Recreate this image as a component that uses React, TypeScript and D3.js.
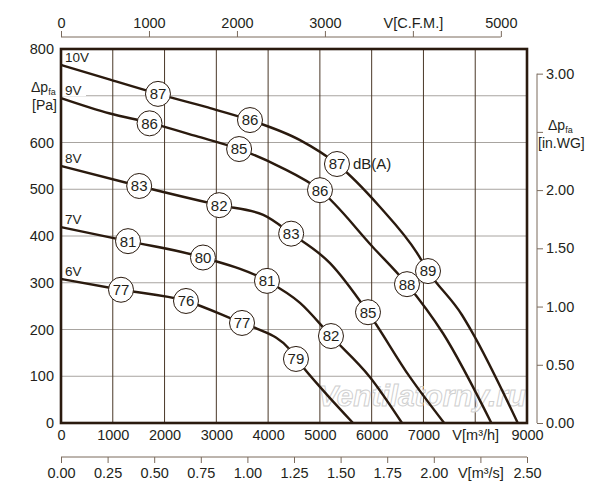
import { useEffect, useRef } from "react";
import * as d3 from "d3";

type Pt = [number, number];
type Mark = [number, number, string];

// flow V [m³/h], static pressure Δp_fa [Pa]
const curve10V: Pt[] = [
  [0, 766], [900, 736], [1873, 704], [2800, 676], [3650, 648], [4616, 605],
  [5330, 554], [6161, 462], [6875, 364], [7088, 325], [7744, 231], [7937, 195], [8822, 0],
];
const curve9V: Pt[] = [
  [0, 695], [946, 662], [1719, 642], [2600, 614], [3438, 586], [4229, 548],
  [5002, 498], [6025, 376], [6682, 297], [7377, 192], [8312, 0],
];
const curve8V: Pt[] = [
  [0, 550], [1506, 507], [3051, 466], [3906, 445], [4461, 404], [5195, 342],
  [5929, 237], [6740, 98], [7400, 0],
];
const curve7V: Pt[] = [
  [0, 419], [1294, 389], [2742, 354], [3978, 304], [4616, 257], [5214, 186],
  [5968, 98], [6586, 0],
];
const curve6V: Pt[] = [
  [0, 308], [1159, 285], [2414, 261], [3496, 214], [3780, 202], [4420, 157],
  [4600, 130], [5100, 65], [5640, 0],
];

const curveNames = ["10V", "9V", "8V", "7V", "6V"];
const curves = [curve10V, curve9V, curve8V, curve7V, curve6V];

// sound level dB(A) markers on each curve
const marks10V: Mark[] = [[1873, 704, "87"], [3650, 648, "86"], [5330, 554, "87"], [7088, 325, "89"]];
const marks9V: Mark[] = [[1710, 641, "86"], [3440, 586, "85"], [5002, 498, "86"], [6682, 297, "88"]];
const marks8V: Mark[] = [[1510, 507, "83"], [3055, 466, "82"], [4445, 405, "83"], [5929, 237, "85"]];
const marks7V: Mark[] = [[1294, 389, "81"], [2742, 354, "80"], [3978, 304, "81"], [5214, 186, "82"]];
const marks6V: Mark[] = [[1159, 285, "77"], [2414, 261, "76"], [3496, 214, "77"], [4538, 137, "79"]];
const marks = [marks10V, marks9V, marks8V, marks7V, marks6V];

const flowTicks = [0, 1000, 2000, 3000, 4000, 5000, 6000, 7000, 8000, 9000];
const flowTickLabels = ["0", "1000", "2000", "3000", "4000", "5000", "6000", "7000", "V[m³/h]", "9000"];
const pressureTicks = [0, 100, 200, 300, 400, 500, 600, 700, 800];
const pressureTickLabels = ["0", "100", "200", "300", "400", "500", "600", "", "800"];
const cfmTicks = [0, 1000, 2000, 3000, 4000, 5000];
const cfmTickLabels = ["0", "1000", "2000", "3000", "V[C.F.M.]", "5000"];
const m3sTicks = [0, 0.25, 0.5, 0.75, 1, 1.25, 1.5, 1.75, 2, 2.25, 2.5];
const m3sTickLabels = ["0.00", "0.25", "0.50", "0.75", "1.00", "1.25", "1.50", "1.75", "2.00", "V[m³/s]", "2.50"];
const inwgTicks = [0, 0.5, 1, 1.5, 2, 2.5, 3];
const inwgTickLabels = ["0.00", "0.50", "1.00", "1.50", "2.00", "", "3.00"];

const INK = "#2a1a0e";
const TEXT = "#231f1a";
const AXIS = "#7a6a5c";
const FONT = "'Liberation Sans', Arial, sans-serif";

export default function App() {
  const svgRef = useRef<SVGSVGElement>(null);

  useEffect(() => {
    const svgEl = svgRef.current;
    if (!svgEl) return;
    const svg = d3.select(svgEl);
    svg.selectAll("*").remove();

    const left = 61, right = 527, top = 49, bottom = 423;
    const x = d3.scaleLinear().domain([0, 9000]).range([left, right]);
    const y = d3.scaleLinear().domain([0, 800]).range([bottom, top]);
    const xCfm = d3.scaleLinear().domain([0, 9000 / 1.699]).range([left, right]);
    const xM3s = d3.scaleLinear().domain([0, 2.5]).range([left, right]);
    const yInwg = d3.scaleLinear().domain([0, 800 / 249.089]).range([bottom, top]);

    // grid
    const grid = svg.append("g");
    grid.selectAll(".hg")
      .data(pressureTicks.slice(1, -1))
      .enter()
      .append("line")
      .attr("x1", left).attr("x2", right)
      .attr("y1", (d) => y(d)).attr("y2", (d) => y(d))
      .attr("stroke", "#a8a4a0").attr("stroke-width", 1);
    grid.selectAll(".vg")
      .data(flowTicks.slice(1, -1))
      .enter()
      .append("line")
      .attr("y1", top).attr("y2", bottom)
      .attr("x1", (d) => x(d)).attr("x2", (d) => x(d))
      .attr("stroke", "#4a3828").attr("stroke-width", 1);

    // watermark
    svg.append("text")
      .attr("x", 318).attr("y", 406)
      .attr("textLength", 208)
      .attr("lengthAdjust", "spacingAndGlyphs")
      .attr("font-family", FONT)
      .attr("font-size", 30)
      .attr("font-style", "italic")
      .attr("font-weight", "bold")
      .attr("fill", "#ffffff")
      .attr("fill-opacity", 0.75)
      .attr("stroke", "#cfcfcf")
      .attr("stroke-width", 1)
      .text("Ventilatorny.ru");

    // curves
    const line = d3.line<Pt>()
      .x((d) => x(d[0]))
      .y((d) => y(d[1]))
      .curve(d3.curveMonotoneX);
    svg.append("g")
      .selectAll("path")
      .data(curves)
      .enter()
      .append("path")
      .attr("d", (d) => line(d))
      .attr("fill", "none")
      .attr("stroke", INK)
      .attr("stroke-width", 2.4)
      .attr("stroke-linejoin", "round");

    // curve names
    const names = svg.append("g");
    curves.forEach((c, i) => {
      if (curveNames[i] === "9V") {
        names.append("rect")
          .attr("x", left + 1).attr("y", y(c[0][1]) - 16)
          .attr("width", 24).attr("height", 14)
          .attr("fill", "#fff");
      }
      names.append("text")
        .attr("x", left + 4)
        .attr("y", y(c[0][1]) - 3)
        .attr("font-family", FONT)
        .attr("font-size", 13.5)
        .attr("fill", TEXT)
        .text(curveNames[i]);
    });

    // dB markers
    const mg = svg.append("g");
    marks.flat().forEach((m) => {
      mg.append("circle")
        .attr("cx", x(m[0])).attr("cy", y(m[1]))
        .attr("r", 12.5)
        .attr("fill", "#fff")
        .attr("stroke", INK)
        .attr("stroke-width", 1);
      mg.append("text")
        .attr("x", x(m[0])).attr("y", y(m[1]))
        .attr("dy", "0.36em")
        .attr("text-anchor", "middle")
        .attr("font-family", FONT)
        .attr("font-size", 15)
        .attr("fill", TEXT)
        .text(m[2]);
    });
    mg.append("text")
      .attr("x", x(marks10V[2][0]) + 16)
      .attr("y", y(marks10V[2][1]))
      .attr("dy", "0.36em")
      .attr("font-family", FONT)
      .attr("font-size", 15)
      .attr("fill", TEXT)
      .text("dB(A)");

    // frame
    svg.append("rect")
      .attr("x", left).attr("y", top)
      .attr("width", right - left).attr("height", bottom - top)
      .attr("fill", "none")
      .attr("stroke", INK)
      .attr("stroke-width", 2.6);

    const styleAxis = (g: d3.Selection<SVGGElement, unknown, null, undefined>) => {
      g.selectAll(".domain").remove();
      g.selectAll(".tick line").attr("stroke", AXIS);
      g.selectAll("text")
        .attr("fill", TEXT)
        .attr("font-size", 14.5)
        .attr("font-family", FONT);
    };

    // left: Pa
    const yAxis = svg.append("g")
      .attr("transform", `translate(${left},0)`)
      .call(d3.axisLeft(y).tickValues(pressureTicks).tickSize(0).tickPadding(7)
        .tickFormat((_, i) => pressureTickLabels[i]));
    styleAxis(yAxis);

    // bottom: m³/h
    const xAxis = svg.append("g")
      .attr("transform", `translate(0,${bottom})`)
      .call(d3.axisBottom(x).tickValues(flowTicks).tickSize(0).tickPadding(7)
        .tickFormat((_, i) => flowTickLabels[i]));
    styleAxis(xAxis);

    // top: CFM
    const cfmY = 37;
    svg.append("line")
      .attr("x1", xCfm(0)).attr("x2", xCfm(5000))
      .attr("y1", cfmY).attr("y2", cfmY)
      .attr("stroke", AXIS);
    const cfmAxis = svg.append("g")
      .attr("transform", `translate(0,${cfmY})`)
      .call(d3.axisTop(xCfm).tickValues(cfmTicks).tickSize(6).tickPadding(3)
        .tickFormat((_, i) => cfmTickLabels[i]));
    styleAxis(cfmAxis);

    // bottom: m³/s
    const m3sY = 457;
    svg.append("line")
      .attr("x1", xM3s(0)).attr("x2", xM3s(2.5))
      .attr("y1", m3sY).attr("y2", m3sY)
      .attr("stroke", AXIS);
    const m3sAxis = svg.append("g")
      .attr("transform", `translate(0,${m3sY})`)
      .call(d3.axisBottom(xM3s).tickValues(m3sTicks).tickSize(6).tickPadding(5)
        .tickFormat((_, i) => m3sTickLabels[i]));
    styleAxis(m3sAxis);

    // right: in.WG
    const wgX = 537;
    svg.append("line")
      .attr("x1", wgX).attr("x2", wgX)
      .attr("y1", yInwg(0)).attr("y2", yInwg(3))
      .attr("stroke", AXIS);
    const wgAxis = svg.append("g")
      .attr("transform", `translate(${wgX},0)`)
      .call(d3.axisRight(yInwg).tickValues(inwgTicks).tickSize(6).tickPadding(3)
        .tickFormat((_, i) => inwgTickLabels[i]));
    styleAxis(wgAxis);

    // axis titles Δp_fa
    const dpLabel = (tx: number, ty: number, unit: string, unitX: number) => {
      const t = svg.append("text")
        .attr("x", tx).attr("y", ty)
        .attr("font-family", FONT)
        .attr("font-size", 14)
        .attr("fill", TEXT);
      t.append("tspan").text("Δp");
      t.append("tspan").attr("font-size", 9).attr("dy", 3).text("fa");
      svg.append("text")
        .attr("x", unitX).attr("y", ty + 18)
        .attr("font-family", FONT)
        .attr("font-size", 14)
        .attr("fill", TEXT)
        .text(unit);
    };
    dpLabel(31, 92, "[Pa]", 32);
    dpLabel(548, 130, "[in.WG]", 538);
  }, []);

  return (
    <div style={{ position: "absolute", left: 0, top: 0, width: 600, height: 500, background: "#fff" }}>
      <svg ref={svgRef} width={600} height={500} style={{ display: "block" }} />
    </div>
  );
}
